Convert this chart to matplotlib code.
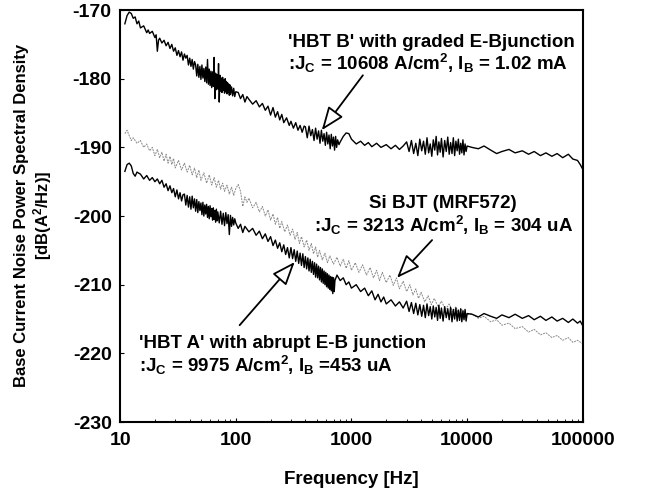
import matplotlib
matplotlib.use("Agg")
import matplotlib.pyplot as plt
from matplotlib.ticker import FixedLocator, FixedFormatter, NullFormatter

plt.rcParams['font.family'] = ['Liberation Sans', 'DejaVu Sans']
plt.rcParams['font.weight'] = 'bold'
plt.rcParams['axes.unicode_minus'] = False
plt.rcParams['mathtext.fontset'] = 'custom'
plt.rcParams['mathtext.rm'] = 'Liberation Sans:bold'
plt.rcParams['mathtext.it'] = 'Liberation Sans:bold'
plt.rcParams['mathtext.bf'] = 'Liberation Sans:bold'

# frequency grid shared by the dense 3k-10k part of both HBT traces
freq_hi = [3000, 3150, 3300, 3450, 3600, 3750, 3900, 4050, 4200, 4350, 4500, 4650, 4800, 4950, 5100, 5250, 5400,
           5550, 5700, 5850, 6000, 6200, 6400, 6600, 6800, 7000, 7200, 7400, 7600, 7800, 8000, 8200, 8400, 8600,
           8800, 9000, 9200, 9400, 9600, 9800, 10000]
freq_tail = [11000, 12500, 14000, 16000, 18000, 20000, 23000, 26000, 30000, 34000, 38000, 43000, 48000, 54000,
             60000, 67000, 75000, 82000, 90000, 95000, 100000]

# HBT B (graded E-B junction)
freq_b = ([11, 11.5, 12, 12.5, 13, 13.5, 14, 14.5, 15, 16, 17, 17.5, 18, 19, 20, 20.5, 21, 21.5, 22, 23,
           24, 25, 26, 27, 28, 29, 30, 31, 32, 33, 34, 35, 36, 37, 38, 39, 40, 41, 42, 43, 44]
          + [45, 46, 47, 48, 49, 50, 51, 52, 53, 54, 55, 56, 57, 58, 59, 60, 61, 62, 63, 64, 65, 66, 67, 68, 69,
             70, 71, 72, 73, 74, 75, 76, 77, 78, 79, 80, 81, 82, 83, 84, 85, 86, 87, 88, 89, 90, 92, 94, 96, 98, 100]
          + [105, 110, 115, 120, 125, 130, 140, 150, 160, 170, 180, 190, 200, 210, 220, 230, 240, 250, 260, 275,
             290, 300, 315, 330, 345, 360, 375, 390]
          + [400, 415, 430, 445, 460, 475, 490, 505, 520, 535, 550, 565, 580, 595, 610, 625, 640, 655, 670, 685,
             700, 715, 730, 745, 760]
          + [780, 800, 850, 900, 950, 1000, 1100, 1200, 1300, 1400, 1500, 1650, 1800, 2000, 2200, 2400, 2600, 2800]
          + freq_hi + freq_tail)
psd_b = ([-172.0, -170.8, -170.3, -170.5, -171.2, -171.0, -172.0, -171.6, -172.6, -172.3, -173.3, -172.9, -173.4,
          -173.1, -174.0, -173.6, -176.0, -174.4, -174.1, -174.8, -174.4, -175.2, -174.7, -175.6, -175.0, -176.0,
          -175.5, -176.6, -175.9, -176.8, -176.1, -177.3, -176.4, -177.0, -176.6, -178.0, -177.0, -178.2, -177.2,
          -178.6, -177.5]
         + [-178.0, -179.6, -177.9, -179.8, -178.2, -180.1, -178.0, -179.9, -178.5, -180.4, -178.3, -180.6, -177.2,
            -180.8, -178.6, -181.0, -178.9, -181.3, -179.0, -181.1, -176.9, -182.9, -179.2, -181.6, -179.4, -181.5,
            -177.8, -183.4, -179.5, -181.8, -179.9, -182.0, -179.8, -181.7, -180.2, -182.1, -180.0, -181.9, -180.4,
            -182.2, -180.6, -182.0, -180.8, -182.4, -180.9, -182.3, -181.2, -182.5, -181.4, -182.6, -181.9]
         + [-182.0, -182.9, -182.3, -183.4, -182.6, -183.0, -183.7, -183.2, -184.1, -183.6, -184.6, -184.0, -185.3,
            -184.2, -185.6, -184.8, -186.0, -185.2, -186.4, -185.7, -186.8, -186.2, -187.2, -186.4, -187.5, -186.8,
            -187.8, -186.9]
         + [-187.0, -188.6, -186.9, -188.3, -187.4, -189.0, -187.2, -188.8, -187.6, -189.4, -187.5, -189.1, -188.0,
            -189.7, -187.8, -189.5, -188.2, -190.2, -188.1, -189.8, -188.5, -190.4, -188.4, -190.0, -188.9]
         + [-189.6, -189.2, -188.4, -187.9, -188.0, -188.8, -189.5, -189.1, -189.7, -189.3, -189.9, -189.4, -190.0,
            -189.6, -190.2, -189.7, -190.3, -189.8]
         + [-189.2, -190.6, -189.0, -190.9, -189.4, -191.2, -188.8, -190.5, -189.1, -191.0, -188.6, -190.8, -189.5,
            -191.3, -188.9, -190.4, -188.4, -191.1, -189.2, -190.7, -188.7, -191.4, -189.0, -190.6, -188.5, -191.0,
            -189.3, -190.9, -188.6, -191.2, -189.1, -190.5, -188.8, -191.0, -189.4, -190.8, -188.9, -191.1, -189.5,
            -190.6, -189.8]
         + [-190.0, -190.2, -189.8, -190.4, -190.9, -190.6, -190.3, -190.8, -190.5, -191.0, -190.6, -191.2, -190.8,
            -191.3, -190.9, -191.5, -191.0, -191.7, -191.9, -192.5, -193.2])

# HBT A (abrupt E-B junction)
freq_a = ([11, 11.5, 12, 12.5, 13, 13.5, 14, 15, 16, 17, 18, 19, 20, 21, 22, 23, 24, 25, 26, 27, 28, 29, 30, 31,
           32, 33, 34, 35]
          + [36, 37, 38, 39, 40, 41, 42, 43, 44, 45, 46, 47, 48, 49, 50, 51, 52, 53, 54, 55, 56, 57, 58, 59, 60,
             61, 62, 63, 64, 65, 66, 67, 68, 69, 70, 72, 74, 76, 78, 80, 82, 84, 86, 88, 90, 92, 94, 96, 98, 100]
          + [105, 110, 115, 120, 130, 140, 150, 160, 170, 180, 190, 200, 210, 220, 230, 240, 250, 260, 270, 280, 290]
          + [300, 310, 320, 330, 340, 350, 360, 370, 380, 390, 400, 410, 420, 430, 440, 450, 460, 470, 480, 490,
             500, 510, 520, 530, 540, 550, 560, 570, 580, 590, 600, 610, 620, 630, 640, 650, 660, 670, 680, 690,
             700, 710, 720]
          + [750, 800, 850, 900, 950, 1000, 1100, 1200, 1300, 1400, 1500, 1600, 1700, 1800, 1900, 2000, 2200, 2400,
             2600, 2800]
          + freq_hi + freq_tail)
psd_a = ([-193.5, -192.5, -192.3, -192.7, -193.8, -194.2, -193.6, -193.9, -194.6, -194.1, -194.8, -194.4, -195.0,
          -194.6, -195.3, -194.8, -195.8, -195.3, -196.3, -195.6, -196.6, -196.0, -197.2, -196.2, -197.5, -196.6,
          -197.8, -196.9]
         + [-196.8, -198.4, -197.0, -198.7, -197.2, -199.0, -197.1, -198.8, -197.5, -199.3, -197.6, -199.5, -197.9,
            -199.2, -198.1, -199.8, -198.0, -200.0, -198.4, -199.7, -198.3, -200.2, -198.6, -200.4, -198.5, -200.1,
            -198.9, -200.6, -198.8, -200.5, -199.2, -200.9, -199.0, -200.7, -199.4, -201.0, -199.3, -201.2, -199.6,
            -201.4, -199.5, -201.1, -199.8, -202.7, -199.9, -201.5, -200.2, -201.3, -200.4, -201.0]
         + [-201.8, -201.2, -202.4, -201.5, -202.3, -201.8, -202.8, -202.2, -203.3, -202.6, -203.7, -203.0, -204.3,
            -203.5, -204.7, -203.9, -205.2, -204.2, -205.6, -204.6, -206.1]
         + [-204.6, -206.2, -204.9, -206.6, -205.1, -206.9, -205.4, -207.2, -205.5, -207.5, -205.9, -207.7, -206.1,
            -208.0, -206.3, -208.2, -206.6, -208.5, -206.8, -208.9, -207.0, -209.0, -207.3, -209.3, -207.5, -209.6,
            -207.7, -209.8, -208.0, -210.0, -208.2, -210.3, -208.4, -210.5, -208.6, -210.7, -208.8, -210.9, -208.9,
            -211.3, -209.0, -211.0, -209.4]
         + [-208.6, -209.4, -209.0, -210.0, -209.6, -210.5, -210.0, -211.0, -210.5, -211.6, -210.9, -212.2, -211.4,
            -212.5, -211.8, -212.8, -212.2, -213.1, -212.5, -213.4]
         + [-212.4, -213.9, -212.6, -214.2, -212.7, -214.4, -212.9, -214.6, -213.0, -214.8, -212.8, -214.5, -213.2,
            -215.0, -213.1, -214.7, -213.3, -215.2, -213.0, -214.9, -213.4, -215.3, -213.2, -214.8, -213.5, -215.1,
            -213.3, -215.4, -213.6, -215.0, -213.4, -215.3, -213.7, -215.2, -213.5, -215.4, -213.8, -215.1, -213.6,
            -215.3, -214.2]
         + [-214.3, -214.7, -214.2, -214.6, -214.9, -214.4, -214.8, -214.3, -214.9, -214.5, -215.1, -214.6, -215.2,
            -214.7, -215.3, -214.9, -215.5, -215.0, -215.6, -215.3, -216.0])

# Si BJT (MRF572)
freq_si = [11, 11.5, 12, 12.5, 13, 14, 15, 16, 17, 18, 19, 20, 21, 22, 23, 24, 25, 26, 27, 28,
           29, 30, 32, 34, 36, 38, 40, 42, 44, 46, 48, 50, 53, 56, 59, 62, 65, 68, 71, 74,
           77, 80, 84, 88, 92, 96, 100, 105, 110, 115, 120, 125, 130, 140, 150, 160, 170, 180, 190, 200,
           210, 220, 230, 240, 250, 265, 280, 295, 310, 325, 340, 355, 370, 390, 410, 430, 450, 470, 490, 510,
           530, 560, 590, 620, 650, 700, 750, 800, 850, 900, 950, 1000, 1080, 1160, 1250, 1350, 1450, 1550, 1650, 1750,
           1850, 2000, 2150, 2300, 2450, 2600, 2800, 3000, 3200, 3400, 3600, 3800, 4000, 4300, 4600, 4900, 5200, 5600, 6000, 6500,
           7000, 7500, 8000, 8500, 9000, 10000, 11000, 12500, 14000, 16000, 18000, 20000, 23000, 26000, 30000, 34000, 38000, 43000, 48000, 54000,
           60000, 67000, 75000, 82000, 90000, 100000]
psd_si = [-188.0, -187.5, -188.3, -189.0, -188.6, -189.4, -189.0, -190.0, -189.5, -190.5, -190.0, -191.2, -190.3, -191.5, -190.7, -192.0, -191.0, -192.3, -191.3, -192.5,
          -191.6, -193.0, -191.9, -193.3, -192.3, -193.6, -192.6, -194.0, -193.0, -194.4, -193.3, -194.8, -193.7, -195.2, -194.0, -195.5, -194.4, -195.8, -194.8, -196.1,
          -195.2, -196.4, -195.5, -196.8, -195.8, -197.0, -196.0, -195.4, -196.4, -198.6, -197.2, -198.0, -197.4, -198.8, -198.0, -199.4, -198.6, -200.0, -199.1, -200.6,
          -199.7, -201.2, -200.2, -201.8, -200.8, -202.3, -201.3, -202.8, -201.9, -203.4, -202.4, -204.0, -203.0, -204.5, -203.5, -205.0, -204.0, -205.5, -204.5, -206.0,
          -205.0, -206.4, -205.4, -206.8, -205.8, -207.0, -206.0, -207.3, -206.3, -207.6, -206.5, -207.9, -206.8, -208.2, -207.1, -208.6, -207.5, -209.0, -207.9, -209.4,
          -208.2, -209.7, -208.6, -210.1, -209.0, -210.6, -209.5, -211.0, -210.0, -211.5, -210.6, -212.0, -211.1, -212.5, -211.6, -212.9, -212.0, -213.2, -212.4, -213.6,
          -212.8, -214.0, -213.2, -214.3, -213.6, -214.4, -214.2, -214.9, -214.6, -215.4, -215.1, -215.9, -215.6, -216.4, -216.1, -216.9, -216.5, -217.3, -217.0, -217.7,
          -217.4, -218.1, -217.7, -218.4, -218.1, -218.6]

x_ticks = [10, 100, 1000, 10000, 100000]
x_labels = ['10', '100', '1000', '10000', '100000']
y_ticks = [-230, -220, -210, -200, -190, -180, -170]

fig = plt.figure(figsize=(6.49, 5.03), dpi=100)
ax = fig.add_axes([0.185, 0.161, 0.713, 0.819])

ax.plot(freq_si, psd_si, color='#8a8a8a', lw=0.7, ls=(0, (2, 1)))
ax.plot(freq_b, psd_b, color='black', lw=1.0)
ax.plot(freq_a, psd_a, color='black', lw=1.0)

ax.set_xscale('log')
ax.set_xlim(10, 100000)
ax.set_ylim(-230, -170)
ax.xaxis.set_major_locator(FixedLocator(x_ticks))
ax.xaxis.set_major_formatter(FixedFormatter(x_labels))
ax.xaxis.set_minor_formatter(NullFormatter())
ax.set_yticks(y_ticks)
ax.tick_params(axis='both', which='major', direction='in', length=3, labelsize=14)
ax.tick_params(axis='x', which='major', pad=7)
ax.tick_params(axis='y', which='major', pad=6)
ax.tick_params(axis='x', which='minor', direction='in', length=2)
for s in ax.spines.values():
    s.set_linewidth(1.5)

fig.text(0.541, 0.046, 'Frequency [Hz]', fontsize=13.5, fontweight='bold', ha='center', va='center')
fig.text(0.052, 0.571, 'Base Current Noise Power Spectral Density\n[dB(A$^{\\rm 2}$/Hz)]',
         fontsize=12, fontweight='bold', rotation=90, ha='center', va='center', linespacing=1.15)

fs = 13.5
ax.text(281, -174.7, "'HBT B' with graded E-Bjunction", fontsize=fs, ha='left', va='center')
ax.text(281, -177.8, r":J$_{\rm C}$ = 10608 A/cm$^{\rm 2}$, I$_{\rm B}$ = 1.02 mA", fontsize=fs, ha='left', va='center')
ax.text(6200, -198.2, "Si BJT (MRF572)", fontsize=fs, ha='center', va='center')
ax.text(6200, -201.4, r":J$_{\rm C}$ = 3213 A/cm$^{\rm 2}$, I$_{\rm B}$ = 304 uA", fontsize=fs, ha='center', va='center')
ax.text(14.6, -218.5, "'HBT A' with abrupt E-B junction", fontsize=fs, ha='left', va='center')
ax.text(14.6, -221.8, r":J$_{\rm C}$ = 9975 A/cm$^{\rm 2}$, I$_{\rm B}$ =453 uA", fontsize=fs, ha='left', va='center')

arrow = dict(arrowstyle='-|>,head_length=0.9,head_width=0.35', fc='white', ec='black', lw=1.3,
             mutation_scale=16, shrinkA=0, shrinkB=0)
ax.annotate('', xy=(554, -187.5), xytext=(1256, -179.5), arrowprops=arrow)
ax.annotate('', xy=(2477, -209.0), xytext=(4980, -203.5), arrowprops=arrow)
ax.annotate('', xy=(323, -206.7), xytext=(108, -215.9), arrowprops=arrow)

fig.savefig('out.png', dpi=100)
